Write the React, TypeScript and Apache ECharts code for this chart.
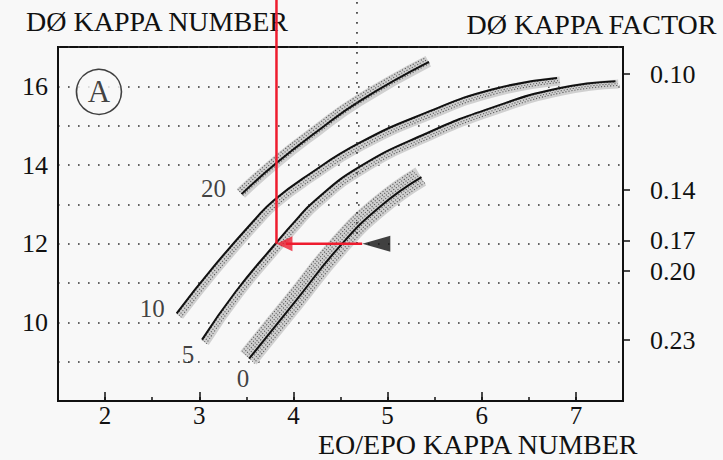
import React, { useEffect, useRef } from 'react';
import * as echarts from 'echarts';

const FONT = '"Liberation Serif", "Times New Roman", serif';
const BG = '#f8f8f8';
const INK = '#111111';
const RED = '#ee1c2e';

// DØ kappa number against EO/EPO kappa number, one curve per labelled group
const curve20X = [3.45, 3.82, 4.25, 4.7, 5.44];
const curve20Y = [13.26, 14.05, 14.85, 15.62, 16.62];

const curve10X = [2.76, 3.14, 3.6, 3.79, 4.14, 4.7, 5.41, 6.11, 6.8];
const curve10Y = [10.23, 11.38, 12.64, 13.1, 13.72, 14.56, 15.33, 15.92, 16.21];

const curve5X = [3.03, 3.39, 3.82, 4.02, 4.22, 4.7, 5.41, 6.11, 6.82, 7.42];
const curve5Y = [9.56, 10.79, 12.03, 12.58, 13.08, 13.95, 14.8, 15.46, 15.95, 16.13];

const curve0X = [3.53, 4.01, 4.48, 4.91, 5.36];
const curve0Y = [9.08, 10.5, 11.9, 12.92, 13.69];

const curveNames = ['20', '10', '5', '0'];
const curveLabelX = [3.15, 2.5, 2.88, 3.465];
const curveLabelY = [13.41, 10.36, 9.17, 8.56];

// axis ticks
const xTickLabels = [2, 3, 4, 5, 6, 7];
const leftTickLabels = [10, 12, 14, 16];
const factorTickPos = [16.31, 13.36, 12.07, 11.3, 9.55];
const factorTickLabels = ['0.10', '0.14', '0.17', '0.20', '0.23'];

// reading example: DØ kappa 12 -> EO/EPO kappa
const guideY = 12;
const guideRedX = 3.82;
const guideDottedX = 4.675;
const guideTipX = 4.73;
const guideBaseX = 5.03;
const guideTopY = 18.3;

// panel marker
const panelName = 'A';
const panelX = 1.935;
const panelY = 15.86;

// grid geometry (px per axis unit), used to offset the shaded bands in pixels
const PX_PER_X = 565 / 6;
const PX_PER_Y = 354 / 9;

const zip = (xs: number[], ys: number[]) => xs.map((x, i) => [x, ys[i]]);

// band: centre offset (px, along the down-right diagonal) and width (px)
const curves = [
  { x: curve20X, y: curve20Y, bandC: -1, bandW: 12 },
  { x: curve10X, y: curve10Y, bandC: 4, bandW: 9 },
  { x: curve5X, y: curve5Y, bandC: 4, bandW: 9 },
  { x: curve0X, y: curve0Y, bandC: -1, bandW: 21 },
];

const shift = (pts: number[][], offPx: number) => {
  const d = offPx * Math.SQRT1_2;
  return pts.map(([x, y]) => [x + d / PX_PER_X, y - d / PX_PER_Y]);
};

const dotted = { color: '#333333', width: 1.6, type: [1.6, 8.4] as number[] };

export default function App() {
  const ref = useRef<HTMLDivElement>(null);

  useEffect(() => {
    if (!ref.current) return;
    const chart = echarts.init(ref.current, null, { renderer: 'svg' });

    const series: any[] = [];
    const smooth = 0.5;

    // stippled shading beside each curve
    curves.forEach((c) => {
      const pts = zip(c.x, c.y);
      series.push({
        type: 'line',
        data: shift(pts, c.bandC),
        smooth,
        symbol: 'none',
        silent: true,
        z: 1,
        lineStyle: { color: '#d0d0d0', width: c.bandW },
      });
      for (let o = c.bandC - c.bandW / 2 + 1.5; o <= c.bandC + c.bandW / 2 - 1.2; o += 2.4) {
        series.push({
          type: 'line',
          data: shift(pts, o),
          smooth,
          symbol: 'none',
          silent: true,
          z: 1,
          lineStyle: { color: '#555555', width: 1.1, type: [1.1, 1.9] },
        });
      }
    });
    curves.forEach((c) => {
      series.push({
        type: 'line',
        data: zip(c.x, c.y),
        smooth,
        symbol: 'none',
        silent: true,
        z: 2,
        lineStyle: { color: INK, width: 2 },
      });
    });

    series.push({
      type: 'scatter',
      data: curveNames.map((n, i) => ({ name: n, value: [curveLabelX[i], curveLabelY[i]] })),
      symbolSize: 0,
      z: 3,
      label: {
        show: true,
        position: 'inside',
        formatter: '{b}',
        fontFamily: FONT,
        fontSize: 25,
        color: INK,
      },
    });

    series.push({
      type: 'scatter',
      data: [{ name: panelName, value: [panelX, panelY] }],
      symbol: 'circle',
      symbolSize: 45,
      z: 3,
      itemStyle: { color: BG, borderColor: INK, borderWidth: 1.6 },
      label: {
        show: true,
        position: 'inside',
        formatter: '{b}',
        fontFamily: FONT,
        fontSize: 31,
        color: INK,
      },
    });

    // dotted vertical guide
    series.push({
      type: 'line',
      data: [[guideDottedX, guideY], [guideDottedX, guideTopY]],
      symbol: 'none',
      clip: false,
      z: 4,
      lineStyle: dotted,
    });

    // red guide lines
    series.push({
      type: 'line',
      data: [[guideRedX, guideY], [guideRedX, guideTopY]],
      symbol: 'none',
      clip: false,
      z: 10,
      lineStyle: { color: RED, width: 2.5 },
    });
    series.push({
      type: 'line',
      data: [[guideTipX, guideY], [guideRedX + 0.1, guideY]],
      symbol: 'none',
      z: 10,
      lineStyle: { color: RED, width: 2.5 },
    });
    series.push({
      type: 'scatter',
      data: [[guideRedX + 16 / 2 / PX_PER_X, guideY]],
      symbol: 'triangle',
      symbolSize: [15, 16],
      symbolRotate: 90,
      z: 10,
      itemStyle: { color: RED },
    });
    series.push({
      type: 'scatter',
      data: [[(guideTipX + guideBaseX) / 2, guideY]],
      symbol: 'triangle',
      symbolSize: [16, 28],
      symbolRotate: 90,
      z: 9,
      itemStyle: { color: INK },
    });

    const axisFont = { fontFamily: FONT, fontSize: 26, color: INK };
    const titleFont = {
      fontFamily: FONT,
      fontSize: 28,
      lineHeight: 26,
      fontWeight: 'normal' as const,
      color: INK,
    };

    chart.setOption({
      animation: false,
      backgroundColor: BG,
      title: [
        { text: 'DØ KAPPA NUMBER', left: 26, top: 8, padding: 0, textStyle: titleFont },
        { text: 'DØ KAPPA FACTOR', right: 5, top: 11, padding: 0, textStyle: titleFont },
        { text: 'EO/EPO KAPPA NUMBER', left: 318, top: 431, padding: 0, textStyle: titleFont },
      ],
      grid: {
        left: 58,
        right: 100,
        top: 47,
        bottom: 59,
        show: true,
        borderColor: INK,
        borderWidth: 2,
        backgroundColor: 'transparent',
      },
      xAxis: [
        {
          type: 'value',
          min: 1.5,
          max: 7.5,
          interval: 0.5,
          axisLine: { show: true, lineStyle: { color: INK, width: 2 } },
          axisTick: { show: true, inside: true, length: 4, lineStyle: { color: INK, width: 1.5 } },
          axisLabel: {
            ...axisFont,
            fontSize: 25,
            lineHeight: 20,
            margin: 4,
            formatter: (v: number) => (xTickLabels.includes(v) ? String(v) : ''),
          },
          splitLine: { show: false },
        },
        {
          type: 'value',
          position: 'bottom',
          min: 1.5,
          max: 7.5,
          axisLine: { show: false },
          axisTick: {
            show: true,
            inside: true,
            length: 9,
            customValues: xTickLabels,
            lineStyle: { color: INK, width: 1.5 },
          },
          axisLabel: { show: false },
          splitLine: { show: false },
        },
      ],
      yAxis: [
        {
          type: 'value',
          min: 8,
          max: 17,
          interval: 1,
          axisLine: { show: true, lineStyle: { color: INK, width: 2 } },
          axisTick: { show: false },
          axisLabel: {
            ...axisFont,
            margin: 10,
            formatter: (v: number) => (leftTickLabels.includes(v) ? String(v) : ''),
          },
          splitLine: { show: true, lineStyle: dotted },
        },
        {
          type: 'value',
          position: 'right',
          min: 8,
          max: 17,
          axisLine: { show: false },
          axisTick: {
            show: true,
            inside: false,
            length: 7,
            customValues: factorTickPos,
            lineStyle: { color: INK, width: 1.5 },
          },
          axisLabel: {
            ...axisFont,
            margin: 27,
            customValues: factorTickPos,
            formatter: (v: number) => {
              const i = factorTickPos.findIndex((p) => Math.abs(p - v) < 1e-6);
              return i >= 0 ? factorTickLabels[i] : '';
            },
          },
          splitLine: { show: false },
        },
      ],
      series,
    });

    return () => chart.dispose();
  }, []);

  return (
    <div
      ref={ref}
      style={{ position: 'fixed', left: 0, top: 0, width: 723, height: 460 }}
    />
  );
}
